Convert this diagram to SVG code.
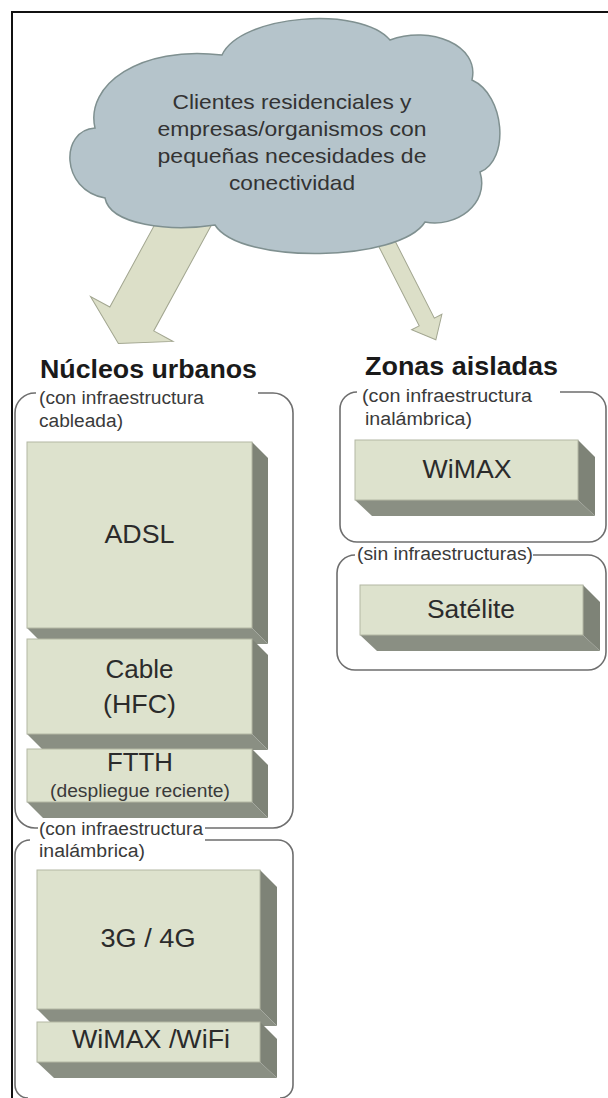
<svg xmlns="http://www.w3.org/2000/svg" width="608" height="1098" viewBox="0 0 608 1098">
<style>
text{font-family:"Liberation Sans",Arial,sans-serif;fill:#2b2b2b}
.h{font-weight:bold;font-size:25px;fill:#1a1a1a}
.lbl{font-size:18px;fill:#3a3a3a}
.big{font-size:25px;text-anchor:middle}
.cl{font-size:21px;text-anchor:middle;fill:#333}
.grp{fill:none;stroke:#6e6e6e;stroke-width:1.6}
.front{fill:#dde2cd;stroke:#b3b8a4;stroke-width:1}
.side{fill:#7e8377}
.bot{fill:#8a8f83}
.arr{fill:#dcdfc8;stroke:#a2a690;stroke-width:1}
</style>
<rect width="608" height="1098" fill="#fff"/>
<path d="M12,1098 V12 H608" fill="none" stroke="#111" stroke-width="2"/>

<g id="connectors">
<polygon class="arr" transform="translate(183,225) rotate(118.6)" points="-15,-25 107,-25 107,-47 135,0 107,47 107,25 -15,25"/>
<polygon class="arr" transform="translate(385,240) rotate(63)" points="-15,-8.5 92,-8.5 92,-17 112,0 92,17 92,8.5 -15,8.5"/>
</g>

<g id="cloud">
<path d="M95,128 C85,85 140,45 222,55 C240,15 360,5 390,40 C430,25 480,45 472,80 C505,95 510,160 480,172 C490,205 455,228 425,222 C400,262 240,265 215,225 C170,232 110,225 105,198 C60,190 60,130 95,128 Z" fill="#b5c4cb" stroke="#7f9090" stroke-width="1.5"/>
<text class="cl" x="292" y="109" textLength="239" lengthAdjust="spacingAndGlyphs">Clientes residenciales y</text>
<text class="cl" x="292" y="136" textLength="269" lengthAdjust="spacingAndGlyphs">empresas/organismos con</text>
<text class="cl" x="292" y="163" textLength="269" lengthAdjust="spacingAndGlyphs">pequeñas necesidades de</text>
<text class="cl" x="292" y="190" textLength="126" lengthAdjust="spacingAndGlyphs">conectividad</text>
</g>

<g id="heading-urbanos">
<text class="h" x="40" y="378" textLength="217" lengthAdjust="spacingAndGlyphs">Núcleos urbanos</text>
</g>
<g id="heading-aisladas">
<text class="h" x="365" y="375" textLength="193" lengthAdjust="spacingAndGlyphs">Zonas aisladas</text>
</g>

<g id="group-cableada">
<path class="grp" d="M36,393 A20,20 0 0 0 15,413 V808 A20,20 0 0 0 35,828 H38 M205,828 H273 A20,20 0 0 0 293,808 V413 A20,20 0 0 0 273,393 H258"/>
<text class="lbl" x="39" y="404" textLength="165" lengthAdjust="spacingAndGlyphs">(con infraestructura</text>
<text class="lbl" x="39" y="427" textLength="84" lengthAdjust="spacingAndGlyphs">cableada)</text>
</g>

<g id="adsl">
<polygon class="side" points="252,442 268,458 268,644 252,628"/>
<polygon class="bot" points="27,628 252,628 268,644 43,644"/>
<rect class="front" x="27" y="442" width="225" height="186"/>
<text class="big" x="139.5" y="543" textLength="70" lengthAdjust="spacingAndGlyphs">ADSL</text>
</g>

<g id="cable">
<polygon class="side" points="252,639 268,655 268,750 252,734"/>
<polygon class="bot" points="27,734 252,734 268,750 43,750"/>
<rect class="front" x="27" y="639" width="225" height="95"/>
<text class="big" x="139.5" y="678" textLength="68" lengthAdjust="spacingAndGlyphs">Cable</text>
<text class="big" x="139.5" y="713" textLength="73" lengthAdjust="spacingAndGlyphs">(HFC)</text>
</g>

<g id="ftth">
<polygon class="side" points="252,749 268,765 268,818 252,802"/>
<polygon class="bot" points="27,802 252,802 268,818 43,818"/>
<rect class="front" x="27" y="749" width="225" height="53"/>
<text class="big" x="140" y="771" textLength="66" lengthAdjust="spacingAndGlyphs">FTTH</text>
<text class="lbl" x="140" y="797" text-anchor="middle" textLength="180" lengthAdjust="spacingAndGlyphs">(despliegue reciente)</text>
</g>

<g id="group-inalambrica-urbana">
<path class="grp" d="M30,840 A15,15 0 0 0 15,855 V1085 A13,13 0 0 0 28,1098 M280,1098 A13,13 0 0 0 293,1085 V855 A15,15 0 0 0 278,840 H205"/>
<text class="lbl" x="39" y="835" textLength="164" lengthAdjust="spacingAndGlyphs">(con infraestructura</text>
<text class="lbl" x="39" y="857" textLength="106" lengthAdjust="spacingAndGlyphs">inalámbrica)</text>
</g>

<g id="g3g4g">
<polygon class="side" points="260,870 277,887 277,1026 260,1009"/>
<polygon class="bot" points="37,1009 260,1009 277,1026 54,1026"/>
<rect class="front" x="37" y="870" width="223" height="139"/>
<text class="big" x="148" y="947" textLength="95" lengthAdjust="spacingAndGlyphs">3G / 4G</text>
</g>

<g id="wimax-wifi">
<polygon class="side" points="260,1022 277,1039 277,1078 260,1062"/>
<polygon class="bot" points="37,1062 260,1062 277,1078 54,1078"/>
<rect class="front" x="37" y="1022" width="223" height="40"/>
<text class="big" x="151" y="1048" textLength="158" lengthAdjust="spacingAndGlyphs">WiMAX /WiFi</text>
</g>

<g id="group-inalambrica-aislada">
<path class="grp" d="M357,392 A17,17 0 0 0 340,409 V525 A17,17 0 0 0 357,542 H589 A17,17 0 0 0 606,525 V409 A17,17 0 0 0 589,392 H560"/>
<text class="lbl" x="362" y="402" textLength="170" lengthAdjust="spacingAndGlyphs">(con infraestructura</text>
<text class="lbl" x="365" y="425" textLength="107" lengthAdjust="spacingAndGlyphs">inalámbrica)</text>
</g>

<g id="wimax">
<polygon class="side" points="578,440 595,457 595,516 578,500"/>
<polygon class="bot" points="355,500 578,500 595,516 372,516"/>
<rect class="front" x="355" y="440" width="223" height="60"/>
<text class="big" x="467" y="478" textLength="89" lengthAdjust="spacingAndGlyphs">WiMAX</text>
</g>

<g id="group-sin-infra">
<path class="grp" d="M355,555 A18,18 0 0 0 337,573 V652 A18,18 0 0 0 355,670 H588 A18,18 0 0 0 606,652 V573 A18,18 0 0 0 588,555 H533"/>
<text class="lbl" x="357" y="560" textLength="176" lengthAdjust="spacingAndGlyphs">(sin infraestructuras)</text>
</g>

<g id="satelite">
<polygon class="side" points="583,585 600,602 600,651 583,635"/>
<polygon class="bot" points="360,635 583,635 600,651 377,651"/>
<rect class="front" x="360" y="585" width="223" height="50"/>
<text class="big" x="471" y="618" textLength="88" lengthAdjust="spacingAndGlyphs">Satélite</text>
</g>
</svg>
